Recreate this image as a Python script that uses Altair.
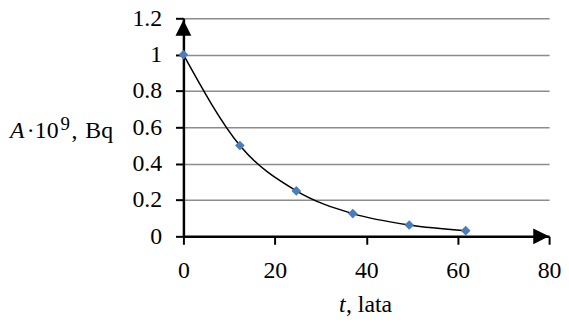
import altair as alt
import pandas as pd

# ---- data ----
t_years = [0, 12.35, 24.7, 37.05, 49.4, 61.75]
activity = [1.0, 0.5, 0.25, 0.125, 0.0625, 0.03125]
x_ticks = [0, 20, 40, 60, 80]
y_ticks = [0, 0.2, 0.4, 0.6, 0.8, 1.0, 1.2]
x_domain = [0, 80]
y_domain = [0, 1.2]

df = pd.DataFrame({"t": t_years, "A": activity})

FONT = "Liberation Serif"
FS = 24

x_scale = alt.Scale(domain=x_domain, nice=False, zero=False)
y_scale = alt.Scale(domain=y_domain, nice=False)

x_enc = alt.X("t:Q", scale=x_scale,
              axis=alt.Axis(values=x_ticks, title=None, grid=False,
                            labelExpr="'' + datum.value",
                            domainColor="black", domainWidth=2.5,
                            tickColor="black", tickWidth=2, tickSize=8,
                            labelFont=FONT, labelFontSize=FS, labelColor="black",
                            labelPadding=15, labelFlush=False))
y_enc = alt.Y("A:Q", scale=y_scale,
              axis=alt.Axis(values=y_ticks, title=None, grid=True,
                            labelExpr="'' + datum.value",
                            gridColor="#8c8c8c", gridWidth=1.5,
                            domainColor="black", domainWidth=2.5,
                            tickColor="black", tickWidth=2, tickSize=8,
                            labelFont=FONT, labelFontSize=FS, labelColor="black",
                            labelPadding=14))

curve = alt.Chart(df).mark_line(color="black", strokeWidth=1.5, interpolate="monotone").encode(x=x_enc, y=y_enc)
points = alt.Chart(df).mark_point(shape="diamond", filled=True, size=95, color="#4a7ebb", opacity=1).encode(x=x_enc, y=y_enc)

up_arrow = alt.Chart(pd.DataFrame({"t": [x_domain[0]], "A": [y_domain[1]]})).mark_point(
    shape="M0,0.2L-1,2.2L1,2.2Z", filled=True, size=256, color="black", opacity=1
).encode(x=x_enc, y=y_enc)
right_arrow = alt.Chart(pd.DataFrame({"t": [x_domain[1]], "A": [y_domain[0]]})).mark_point(
    shape="M0,0L-2,-1L-2,1Z", filled=True, size=256, color="black", opacity=1
).encode(x=x_enc, y=y_enc)


def label(txt, x, y, size=FS, style="normal", align="left"):
    return alt.Chart(pd.DataFrame({"s": [txt]})).mark_text(
        font=FONT, fontSize=size, fontStyle=style, color="black",
        align=align, baseline="alphabetic"
    ).encode(x=alt.value(x), y=alt.value(y), text="s:N")


# y title: A·10^9, Bq  (plot origin at page x=185, y=17)
ytitle = [
    label("A", -175, 121, style="italic"),
    label("·10", -158, 121),
    label("9", -124, 113, size=19),
    label(",", -113, 121),
    label("Bq", -99, 121),
]
# x title: t, lata
xtitle = [
    label("t", 157, 296, style="italic"),
    label(", lata", 164, 296),
]

chart = alt.layer(curve, points, up_arrow, right_arrow, *ytitle, *xtitle).properties(
    width=369, height=220,
    autosize=alt.AutoSizeParams(type="none"),
    padding={"left": 177, "top": 9, "right": 12, "bottom": 80},
    background="white",
).configure_view(stroke=None)

chart.save("out.html", embed_options={"renderer": "svg", "actions": False})
